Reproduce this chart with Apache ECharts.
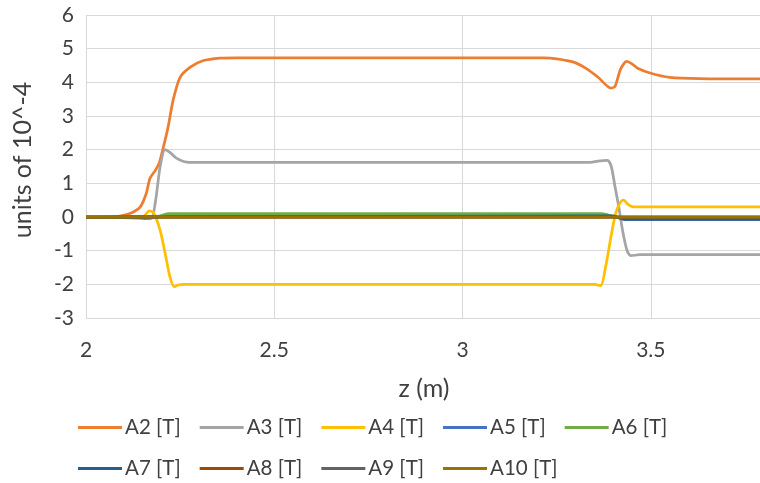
<!DOCTYPE html>
<html><head><meta charset="utf-8">
<script src="https://cdn.jsdelivr.net/npm/echarts@6/dist/echarts.min.js"></script>
<style>html,body{margin:0;padding:0;background:#fff}#c{width:760px;height:483px}</style>
</head><body><div id="c"></div>
<script>
const seriesNames = ['A2 [T]','A3 [T]','A4 [T]','A5 [T]','A6 [T]','A7 [T]','A8 [T]','A9 [T]','A10 [T]'];
const colors = ['#ED7D31','#A5A5A5','#FFC000','#4472C4','#70AD47','#255E91','#9E480E','#636363','#997300'];
const yTicks = [-3,-2,-1,0,1,2,3,4,5,6];
const xTicks = [2,2.5,3,3.5];

const A2 = [[2,0],[2.06,0],[2.09,0.03],[2.12,0.12],[2.144,0.3],[2.16,0.7],[2.17,1.15],[2.185,1.4],[2.195,1.62],[2.205,2.05],[2.218,2.67],[2.232,3.5],[2.25,4.15],[2.277,4.45],[2.31,4.64],[2.356,4.72],[2.4,4.73],[3.215,4.73],[3.25,4.7],[3.295,4.6],[3.33,4.4],[3.36,4.15],[3.394,3.83],[3.405,3.88],[3.42,4.4],[3.436,4.62],[3.45,4.55],[3.465,4.42],[3.5,4.27],[3.55,4.15],[3.63,4.11],[3.79,4.1]];
const A3 = [[2,0],[2.14,0],[2.16,-0.05],[2.175,-0.03],[2.185,0.5],[2.197,1.5],[2.21,2.0],[2.225,1.9],[2.24,1.75],[2.268,1.63],[2.3,1.62],[3.34,1.62],[3.36,1.66],[3.385,1.68],[3.395,1.5],[3.405,0.9],[3.415,0.3],[3.425,-0.4],[3.437,-1.0],[3.447,-1.15],[3.47,-1.12],[3.79,-1.12]];
const A4 = [[2,0],[2.15,0],[2.168,0.18],[2.18,0.12],[2.197,-0.4],[2.21,-1.07],[2.223,-1.78],[2.234,-2.07],[2.245,-2.02],[2.26,-2.0],[3.35,-2.0],[3.367,-2.04],[3.38,-1.48],[3.394,-0.6],[3.407,0.12],[3.42,0.45],[3.428,0.5],[3.441,0.36],[3.455,0.3],[3.79,0.3]];
const A5 = [[2,0],[2.2,0.02],[3.4,0.02],[3.43,-0.08],[3.79,-0.08]];
const A6 = [[2,0],[2.19,0.02],[2.22,0.1],[3.37,0.1],[3.41,0],[3.79,0]];
const A7 = [[2,0],[3.4,0.03],[3.43,-0.06],[3.79,-0.06]];
const A8 = [[2,0],[3.79,0]];
const A9 = [[2,0],[2.15,-0.03],[2.2,0],[3.79,0]];
const A10 = [[2,0],[3.79,0]];
const allData = [A2,A3,A4,A5,A6,A7,A8,A9,A10];

const FONT = 'Lato';
const TXT = '#404040';
const chart = echarts.init(document.getElementById('c'), null, {renderer:'canvas'});
const legendCommon = {left:73, itemWidth:44, itemHeight:3, itemGap:19, icon:'rect',
  textStyle:{fontSize:20.5, color:TXT, fontFamily:FONT, padding:[0,0,0,-2]}};
chart.setOption({
  animation:false,
  textStyle:{fontFamily:FONT},
  grid:{left:86, right:0, top:15, bottom:165},
  xAxis:{type:'value', min:xTicks[0], max:3.79, interval:0.5,
    axisLine:{show:false}, axisTick:{show:false},
    axisLabel:{color:TXT, fontSize:21, margin:22, fontFamily:FONT, showMaxLabel:false,
      formatter:v=> xTicks.indexOf(v)>=0 ? String(v) : ''},
    splitLine:{show:true, lineStyle:{color:'#D9D9D9', width:1}}},
  yAxis:{type:'value', min:yTicks[0], max:yTicks[yTicks.length-1], interval:1,
    axisLine:{show:false}, axisTick:{show:false},
    axisLabel:{color:TXT, fontSize:21, margin:12, fontFamily:FONT},
    splitLine:{show:true, lineStyle:{color:'#D9D9D9', width:1}}},
  legend:[
    Object.assign({data:seriesNames.slice(0,5), top:412}, legendCommon),
    Object.assign({data:seriesNames.slice(5), top:453}, legendCommon)
  ],
  graphic:[
    {type:'text', x:424, y:389, style:{text:'z (m)', fontSize:25, fill:TXT, fontFamily:FONT, align:'center', verticalAlign:'middle'}},
    {type:'text', x:23, y:160, rotation:Math.PI/2, style:{text:'units of 10^-4', fontSize:25, fill:TXT, fontFamily:FONT, align:'center', verticalAlign:'middle'}}
  ],
  series: allData.map((d,i)=>({
    name:seriesNames[i], type:'line', data:d, showSymbol:false, smooth:0.25,
    lineStyle:{color:colors[i], width:2.75}, itemStyle:{color:colors[i]}, z:2+i
  }))
});
</script></body></html>
